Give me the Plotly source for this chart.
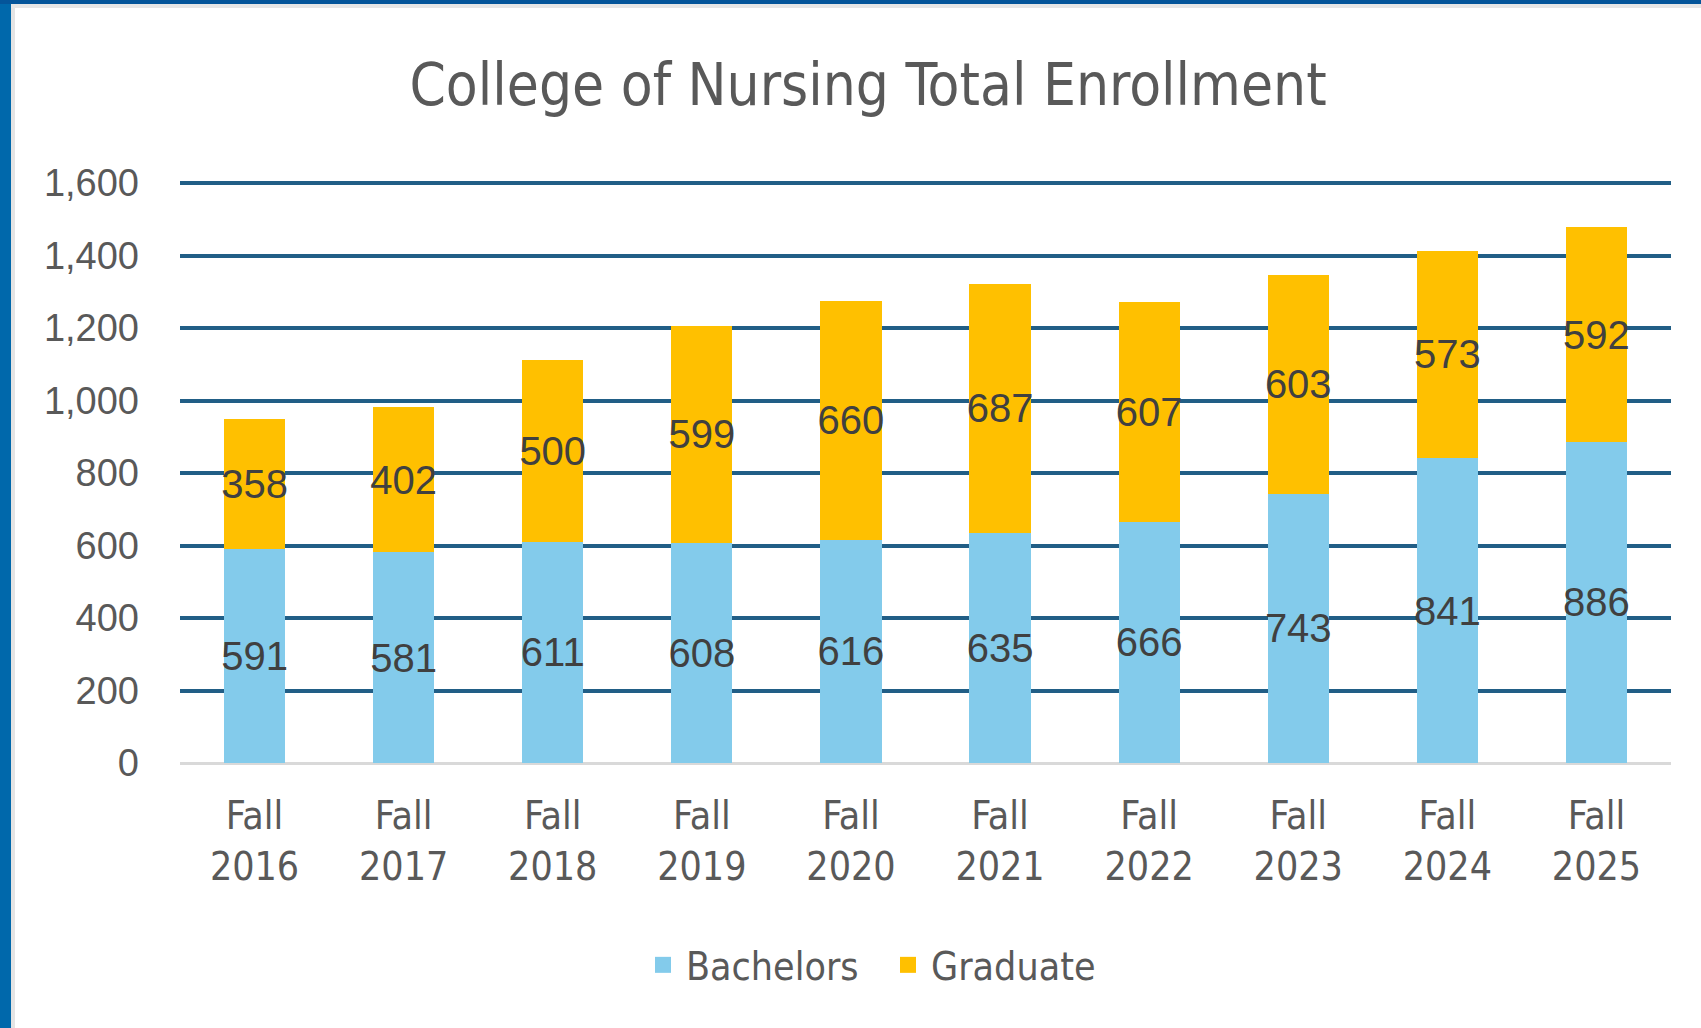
import plotly.graph_objects as go

categories = ["Fall<br>2016", "Fall<br>2017", "Fall<br>2018", "Fall<br>2019", "Fall<br>2020",
              "Fall<br>2021", "Fall<br>2022", "Fall<br>2023", "Fall<br>2024", "Fall<br>2025"]
bachelors = [591, 581, 611, 608, 616, 635, 666, 743, 841, 886]
graduate = [358, 402, 500, 599, 660, 687, 607, 603, 573, 592]
y_ticks = [0, 200, 400, 600, 800, 1000, 1200, 1400, 1600]
y_tick_text = ["0", "200", "400", "600", "800", "1,000", "1,200", "1,400", "1,600"]
series_names = ["Bachelors", "Graduate"]
series_colors = ["#83CBEB", "#FFC000"]

W, H = 1701, 1028
ML, MR, MT, MB = 180, 30, 182, 265
PW = W - ML - MR
PH = H - MT - MB


def px_x(p):
    return (p - ML) / PW


def px_y(p):
    return (H - MB - p) / PH


NARROW = "DejaVu Sans Condensed, Roboto, sans-serif"
label_font = dict(family="Liberation Sans, Arial", size=40, color="#404040")

fig = go.Figure()
for vals, name, col in zip([bachelors, graduate], series_names, series_colors):
    fig.add_trace(go.Bar(
        x=categories, y=vals, name=name, showlegend=False,
        marker=dict(color=col, line=dict(width=0)),
        text=vals, textposition="inside", insidetextanchor="middle",
        textfont=label_font, textangle=0, constraintext="none",
    ))
# legend entries with larger square swatches
for name, col in zip(series_names, series_colors):
    fig.add_trace(go.Scatter(
        x=[None], y=[None], mode="markers", name=name,
        marker=dict(symbol="square", size=22, color=col),
    ))

shapes = [
    dict(type="rect", xref="paper", yref="paper", x0=px_x(0), x1=px_x(11), y0=px_y(H), y1=px_y(0),
         fillcolor="#0068AB", line=dict(width=0), layer="above"),
    dict(type="rect", xref="paper", yref="paper", x0=px_x(11), x1=px_x(15), y0=px_y(H), y1=px_y(4),
         fillcolor="#E4E4E4", line=dict(width=0), layer="above"),
    dict(type="rect", xref="paper", yref="paper", x0=px_x(0), x1=px_x(W), y0=px_y(4), y1=px_y(0),
         fillcolor="#04559A", line=dict(width=0), layer="above"),
    dict(type="rect", xref="paper", yref="paper", x0=px_x(11), x1=px_x(W), y0=px_y(8), y1=px_y(4),
         fillcolor="#E6E6E6", line=dict(width=0), layer="above"),
]

fig.update_layout(
    width=W, height=H,
    margin=dict(l=ML, r=MR, t=MT, b=MB, pad=0),
    paper_bgcolor="white", plot_bgcolor="white",
    barmode="stack", bargap=0.59,
    title=dict(text="College of Nursing Total Enrollment", x=px_x(868), xref="paper", xanchor="center",
               y=1 - 85 / H, yanchor="middle",
               font=dict(family=NARROW, size=58, color="#595959")),
    xaxis=dict(
        tickfont=dict(family=NARROW, size=39, color="#595959"),
        showgrid=False, zeroline=False, showline=False, ticks="", ticklabelstandoff=26,
    ),
    yaxis=dict(
        range=[0, 1603], tickvals=y_ticks, ticktext=y_tick_text,
        tickfont=dict(family="Liberation Sans, Arial", size=38, color="#595959"),
        showgrid=True, gridcolor="#215E86", gridwidth=3.5,
        zeroline=True, zerolinecolor="#D9D9D9", zerolinewidth=3,
        showline=False, ticks="", ticklabelstandoff=40,
    ),
    legend=dict(orientation="h", x=px_x(640), xanchor="left", y=px_y(965), yanchor="middle",
                font=dict(family=NARROW, size=39, color="#595959"),
                traceorder="normal", itemwidth=36, entrywidth=194, entrywidthmode="pixels"),
    shapes=shapes,
    showlegend=True,
)

fig.write_html("out.html")
